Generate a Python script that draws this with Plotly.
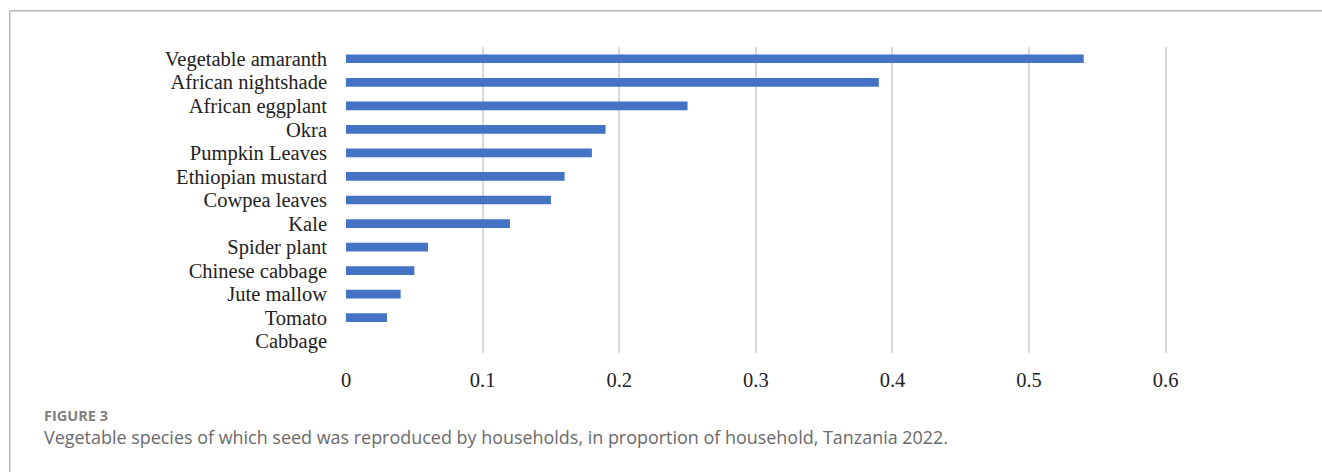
import plotly.graph_objects as go

categories = ["Vegetable amaranth", "African nightshade", "African eggplant", "Okra",
              "Pumpkin Leaves", "Ethiopian mustard", "Cowpea leaves", "Kale",
              "Spider plant", "Chinese cabbage", "Jute mallow", "Tomato", "Cabbage"]
values = [0.54, 0.39, 0.25, 0.19, 0.18, 0.16, 0.15, 0.12, 0.06, 0.05, 0.04, 0.03, 0.0]
x_ticks = [0, 0.1, 0.2, 0.3, 0.4, 0.5, 0.6]
x_tick_labels = ["0", "0.1", "0.2", "0.3", "0.4", "0.5", "0.6"]

W, H = 1322, 472
ML, MR, MT, MB = 346, 128.5, 47.25, 119.25
PW = W - ML - MR
PH = H - MT - MB

def px(x):
    return (x - ML) / PW

def py(y):
    return (H - MB - y) / PH

fig = go.Figure(go.Bar(
    x=values, y=categories, orientation="h",
    marker=dict(color="#4472C4", line=dict(width=0)),
    width=0.37,
))

fig.update_layout(
    width=W, height=H,
    margin=dict(l=ML, r=MR, t=MT, b=MB, pad=0),
    paper_bgcolor="white", plot_bgcolor="white",
    showlegend=False,
    font=dict(family="Liberation Serif", size=20.5, color="#222"),
    xaxis=dict(range=[0, 0.62], tickvals=x_ticks, ticktext=x_tick_labels,
               showgrid=True, gridcolor="#d9d9d9", gridwidth=2,
               zeroline=False, showline=False, ticks="",
               ticklabelstandoff=12,
               tickfont=dict(family="Liberation Serif", size=20.5, color="#222")),
    yaxis=dict(autorange="reversed", showgrid=False, zeroline=False, showline=False,
               ticks="", ticklabelstandoff=18,
               tickmode="array", tickvals=categories, ticktext=categories,
               tickfont=dict(family="Liberation Serif", size=20.5, color="#222")),
    shapes=[
        dict(type="line", xref="paper", yref="paper", x0=px(9.5), x1=px(W + 5),
             y0=py(11), y1=py(11), line=dict(color="#b4b4b4", width=1.5)),
        dict(type="line", xref="paper", yref="paper", x0=px(9.5), x1=px(9.5),
             y0=py(11), y1=py(H + 5), line=dict(color="#b4b4b4", width=1.5)),
    ],
    annotations=[
        dict(text="<b>FIGURE 3</b>", xref="paper", yref="paper", x=px(42), y=py(415),
             xanchor="left", yanchor="middle", showarrow=False,
             font=dict(family="Open Sans", size=14.5, color="#808080")),
        dict(text="Vegetable species of which seed was reproduced by households, in proportion of household, Tanzania 2022.",
             xref="paper", yref="paper", x=px(42), y=py(437),
             xanchor="left", yanchor="middle", showarrow=False,
             font=dict(family="Open Sans", size=17.95, color="#6a6a6a")),
    ],
)

fig.write_html("out.html")
